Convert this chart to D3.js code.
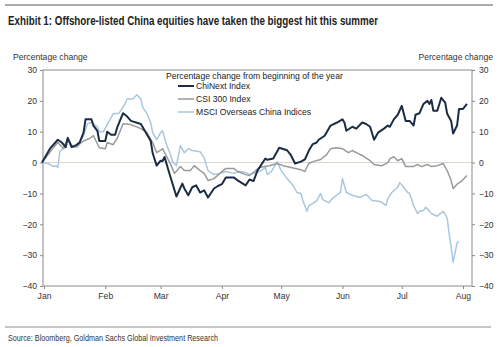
<!DOCTYPE html>
<html lang="en">
<head>
<meta charset="utf-8">
<script src="https://cdn.jsdelivr.net/npm/d3@7"></script>
<style>
  body { margin: 0; background: #fff; }
  svg { display: block; font-family: Arial, "Liberation Sans", sans-serif; }
</style>
</head>
<body>
<script>
// cumulative % change since the start of the year, [date, value]
var chinext = [
  ["2020-12-31", 0], ["2021-01-04", 4.5], ["2021-01-08", 7.4], ["2021-01-10", 6.5], ["2021-01-12", 5],
  ["2021-01-13", 8], ["2021-01-15", 5], ["2021-01-17", 5.5], ["2021-01-19", 6.5], ["2021-01-21", 9.7],
  ["2021-01-22", 14], ["2021-01-25", 14], ["2021-01-26", 12], ["2021-01-28", 10.3], ["2021-01-29", 7],
  ["2021-02-01", 7], ["2021-02-02", 10], ["2021-02-04", 9], ["2021-02-06", 9], ["2021-02-07", 11.3],
  ["2021-02-10", 16], ["2021-02-12", 15], ["2021-02-14", 13.5], ["2021-02-19", 12.5], ["2021-02-21", 10.3],
  ["2021-02-24", 7], ["2021-02-25", 3], ["2021-02-27", -1], ["2021-03-01", 0.6], ["2021-03-02", 0.5],
  ["2021-03-03", 1.8], ["2021-03-04", -0.4], ["2021-03-05", -2.6], ["2021-03-07", -6.8], ["2021-03-09", -11],
  ["2021-03-12", -6.8], ["2021-03-13", -8.4], ["2021-03-15", -10.6], ["2021-03-17", -8], ["2021-03-19", -7.4],
  ["2021-03-21", -9.7], ["2021-03-23", -9], ["2021-03-25", -11.3], ["2021-03-28", -8.4], ["2021-03-30", -7.6],
  ["2021-04-01", -7], ["2021-04-03", -4.8], ["2021-04-07", -4.8], ["2021-04-09", -5.8], ["2021-04-13", -7.4],
  ["2021-04-15", -5.5], ["2021-04-17", -6], ["2021-04-19", -2.6], ["2021-04-23", 1.3], ["2021-04-24", 0.9],
  ["2021-04-27", 1.3], ["2021-04-30", 4.8], ["2021-05-04", 4], ["2021-05-06", 2.3], ["2021-05-08", -0.3],
  ["2021-05-11", 0.3], ["2021-05-13", 1], ["2021-05-15", 3.9], ["2021-05-17", 6], ["2021-05-19", 6.5],
  ["2021-05-20", 7.4], ["2021-05-23", 8.7], ["2021-05-26", 12], ["2021-05-29", 12.9], ["2021-06-01", 14],
  ["2021-06-02", 13], ["2021-06-03", 10.3], ["2021-06-06", 11.6], ["2021-06-08", 11], ["2021-06-11", 13],
  ["2021-06-13", 12.5], ["2021-06-15", 11.6], ["2021-06-17", 7.4], ["2021-06-19", 9.7], ["2021-06-22", 11],
  ["2021-06-24", 12], ["2021-06-25", 11.6], ["2021-06-27", 14], ["2021-06-29", 15.5], ["2021-07-01", 18.4],
  ["2021-07-03", 13.5], ["2021-07-05", 13.5], ["2021-07-07", 12], ["2021-07-08", 15.5], ["2021-07-10", 16],
  ["2021-07-12", 19], ["2021-07-14", 20], ["2021-07-15", 19], ["2021-07-16", 20.3], ["2021-07-17", 16.8],
  ["2021-07-19", 16.8], ["2021-07-21", 21], ["2021-07-23", 19.4], ["2021-07-24", 15.8], ["2021-07-26", 13.5],
  ["2021-07-27", 9.4], ["2021-07-29", 12], ["2021-07-30", 17.4], ["2021-08-01", 17.4], ["2021-08-03", 19]
];

var csi300 = [
  ["2020-12-31", 0], ["2021-01-06", 5], ["2021-01-08", 6.5], ["2021-01-11", 4.5], ["2021-01-13", 8],
  ["2021-01-15", 5.5], ["2021-01-18", 5.5], ["2021-01-21", 7], ["2021-01-24", 7.8], ["2021-01-26", 8.7],
  ["2021-01-29", 4.8], ["2021-02-01", 4.5], ["2021-02-02", 6.5], ["2021-02-05", 5.8], ["2021-02-07", 7.8],
  ["2021-02-10", 12.6], ["2021-02-14", 12.3], ["2021-02-19", 11], ["2021-02-22", 9.7], ["2021-02-25", 6.5],
  ["2021-02-27", 3.2], ["2021-03-01", 4], ["2021-03-02", 4.5], ["2021-03-04", 2], ["2021-03-06", -0.5],
  ["2021-03-08", -3.5], ["2021-03-11", -1.3], ["2021-03-13", -2.6], ["2021-03-16", -2.6], ["2021-03-18", -1],
  ["2021-03-21", -2.6], ["2021-03-23", -3.5], ["2021-03-25", -5.8], ["2021-03-28", -5.2], ["2021-03-31", -3.5],
  ["2021-04-03", -1.9], ["2021-04-07", -1.9], ["2021-04-09", -2.9], ["2021-04-13", -3.9], ["2021-04-15", -4.2],
  ["2021-04-20", -1.6], ["2021-04-25", -1], ["2021-04-29", -0.3], ["2021-05-02", -1], ["2021-05-06", -1.6],
  ["2021-05-11", -2.3], ["2021-05-13", -2.9], ["2021-05-15", -0.3], ["2021-05-17", 0.3], ["2021-05-21", 1],
  ["2021-05-24", 2.6], ["2021-05-26", 4.5], ["2021-05-29", 4.8], ["2021-06-01", 4.5], ["2021-06-04", 3.2],
  ["2021-06-06", 3.9], ["2021-06-09", 2.9], ["2021-06-11", 2.3], ["2021-06-15", 0.6], ["2021-06-17", -0.6],
  ["2021-06-21", -1], ["2021-06-24", 0], ["2021-06-25", 1.3], ["2021-06-27", 1.9], ["2021-06-29", 0.6],
  ["2021-07-01", 1.3], ["2021-07-03", -1.3], ["2021-07-07", -1.3], ["2021-07-09", -0.6], ["2021-07-11", -1.3],
  ["2021-07-14", -0.6], ["2021-07-16", -1.3], ["2021-07-19", -1], ["2021-07-22", -0.3], ["2021-07-24", -2.6],
  ["2021-07-26", -5.8], ["2021-07-27", -8.4], ["2021-07-29", -7], ["2021-07-31", -6.2], ["2021-08-03", -4.2]
];

var msciOverseas = [
  ["2020-12-31", 0], ["2021-01-03", -0.3], ["2021-01-06", -1.3], ["2021-01-07", -1], ["2021-01-08", -1.6],
  ["2021-01-09", 3.5], ["2021-01-11", 5], ["2021-01-13", 7.8], ["2021-01-15", 5], ["2021-01-18", 5],
  ["2021-01-21", 8.7], ["2021-01-23", 12.6], ["2021-01-25", 13], ["2021-01-28", 11.6], ["2021-01-29", 10],
  ["2021-01-31", 10], ["2021-02-02", 12.3], ["2021-02-05", 15.8], ["2021-02-08", 16], ["2021-02-11", 19],
  ["2021-02-12", 20.6], ["2021-02-15", 20.6], ["2021-02-17", 22], ["2021-02-19", 20.6], ["2021-02-20", 17.8],
  ["2021-02-22", 16], ["2021-02-24", 12.9], ["2021-02-25", 9.7], ["2021-02-27", 7.4], ["2021-03-01", 9.7],
  ["2021-03-02", 10.3], ["2021-03-04", 5.8], ["2021-03-06", 2.6], ["2021-03-07", 0.3], ["2021-03-09", -1],
  ["2021-03-11", 5.5], ["2021-03-13", 3.2], ["2021-03-15", 4.5], ["2021-03-17", 3.9], ["2021-03-21", 3.5],
  ["2021-03-23", 1.6], ["2021-03-25", -2.6], ["2021-03-28", -3.9], ["2021-03-31", -3.5], ["2021-04-03", -2.9],
  ["2021-04-07", -3.5], ["2021-04-10", -2.9], ["2021-04-13", -3.2], ["2021-04-15", -3.9], ["2021-04-18", -3.2],
  ["2021-04-20", -2.9], ["2021-04-23", -1.6], ["2021-04-24", -3.9], ["2021-04-26", -2.9], ["2021-04-29", 0.3],
  ["2021-05-01", -2.6], ["2021-05-04", -5.2], ["2021-05-07", -7.4], ["2021-05-09", -9.7], ["2021-05-11", -10],
  ["2021-05-12", -12.3], ["2021-05-14", -15.8], ["2021-05-15", -14], ["2021-05-17", -13.2], ["2021-05-19", -12.3],
  ["2021-05-21", -10], ["2021-05-22", -12], ["2021-05-25", -13], ["2021-05-27", -11.6], ["2021-05-31", -9.7],
  ["2021-06-01", -5.2], ["2021-06-03", -9.7], ["2021-06-06", -10.6], ["2021-06-10", -11.3], ["2021-06-13", -10.3],
  ["2021-06-16", -12.3], ["2021-06-20", -12.6], ["2021-06-23", -13.9], ["2021-06-24", -11.6], ["2021-06-26", -9.7],
  ["2021-06-29", -8], ["2021-06-30", -6.5], ["2021-07-02", -8], ["2021-07-04", -9.7], ["2021-07-05", -10],
  ["2021-07-07", -13.9], ["2021-07-09", -16.5], ["2021-07-10", -15.8], ["2021-07-12", -15.5], ["2021-07-13", -14.5],
  ["2021-07-14", -15], ["2021-07-16", -16.5], ["2021-07-19", -17.4], ["2021-07-20", -16.8], ["2021-07-22", -15.8],
  ["2021-07-24", -18], ["2021-07-25", -23], ["2021-07-26", -27.4], ["2021-07-27", -32.3], ["2021-07-29", -26],
  ["2021-07-30", -25.5]
];

var seriesNames = ["ChiNext Index", "CSI 300 Index", "MSCI Overseas China Indices"];
var seriesColors = ["#1b2c44", "#9a9a9a", "#a9c7de"];
var seriesWidths = [2, 1.5, 1.5];
var yTicks = [30, 20, 10, 0, -10, -20, -30, -40];
var monthTicks = ["2021-01-01", "2021-02-01", "2021-03-01", "2021-04-01", "2021-05-01", "2021-06-01", "2021-07-01", "2021-08-01"];

var w = 500, h = 347;
var plotL = 43, plotR = 472, plotT = 70, plotB = 286;
var parse = d3.timeParse("%Y-%m-%d");

var svg = d3.select("body").append("svg").attr("width", w).attr("height", h);

var x = d3.scaleTime()
  .domain([parse("2021-01-01"), parse("2021-08-01")])
  .range([44, 463]);
var y = d3.scaleLinear().domain([-40, 30]).range([plotB, plotT]);

// header & footer rules
svg.append("line").attr("x1", 5).attr("x2", 493).attr("y1", 5).attr("y2", 5)
  .attr("stroke", "#8f8f8f").attr("stroke-width", 1.5);
svg.append("line").attr("x1", 5).attr("x2", 491).attr("y1", 327).attr("y2", 327)
  .attr("stroke", "#8f8f8f").attr("stroke-width", 1.2);

svg.append("text").attr("x", 8).attr("y", 25)
  .attr("font-family", "'Liberation Sans Narrow', 'Arial Narrow', sans-serif")
  .attr("font-weight", "bold").attr("font-size", 12).attr("fill", "#222")
  .attr("textLength", 370).attr("lengthAdjust", "spacingAndGlyphs")
  .text("Exhibit 1: Offshore-listed China equities have taken the biggest hit this summer");

svg.append("text").attr("x", 8).attr("y", 341)
  .attr("font-family", "'Liberation Sans Narrow', 'Arial Narrow', sans-serif")
  .attr("font-size", 9).attr("fill", "#333")
  .attr("textLength", 210).attr("lengthAdjust", "spacingAndGlyphs")
  .text("Source: Bloomberg, Goldman Sachs Global Investment Research");

svg.append("text").attr("x", 13).attr("y", 60).attr("font-size", 8.6).attr("fill", "#333")
  .text("Percentage change");
svg.append("text").attr("x", 493).attr("y", 60).attr("text-anchor", "end")
  .attr("font-size", 8.6).attr("fill", "#333").text("Percentage change");

// zero line
svg.append("line").attr("x1", plotL).attr("x2", plotR).attr("y1", y(0)).attr("y2", y(0))
  .attr("stroke", "#ddd5cc").attr("stroke-width", 1);

// frame
svg.append("rect").attr("x", plotL).attr("y", plotT)
  .attr("width", plotR - plotL).attr("height", plotB - plotT)
  .attr("fill", "none").attr("stroke", "#8a8a8a").attr("stroke-width", 1);

function styleAxis(g) {
  g.select(".domain").remove();
  g.selectAll(".tick line").attr("stroke", "#8a8a8a");
  g.selectAll(".tick text").attr("fill", "#333").attr("font-size", 8.6)
    .attr("font-family", "Arial, 'Liberation Sans', sans-serif");
}

svg.append("g").attr("transform", "translate(" + plotL + ",0)")
  .call(d3.axisLeft(y).tickValues(yTicks).tickSize(3).tickPadding(3))
  .call(styleAxis);

svg.append("g").attr("transform", "translate(" + plotR + ",0)")
  .call(d3.axisRight(y).tickValues(yTicks).tickSize(3).tickPadding(4))
  .call(styleAxis);

svg.append("g").attr("transform", "translate(0," + plotB + ")")
  .call(d3.axisBottom(x).tickValues(monthTicks.map(parse)).tickFormat(d3.timeFormat("%b"))
    .tickSize(3).tickPadding(4))
  .call(styleAxis);

var line = d3.line()
  .x(function(d) { return x(parse(d[0])); })
  .y(function(d) { return y(d[1]); });

// draw back to front so ChiNext sits on top
var allSeries = [chinext, csi300, msciOverseas];
[2, 1, 0].forEach(function(i) {
  svg.append("path").datum(allSeries[i])
    .attr("d", line)
    .attr("fill", "none")
    .attr("stroke", seriesColors[i])
    .attr("stroke-width", seriesWidths[i])
    .attr("stroke-linejoin", "round");
});

// legend
var legend = svg.append("g").attr("font-size", 8.6).attr("fill", "#222");
legend.append("text").attr("x", 166).attr("y", 79).text("Percentage change from beginning of the year");
seriesNames.forEach(function(name, i) {
  var ly = 86 + i * 13;
  legend.append("line").attr("x1", 178).attr("x2", 194).attr("y1", ly).attr("y2", ly)
    .attr("stroke", seriesColors[i]).attr("stroke-width", seriesWidths[i]);
  legend.append("text").attr("x", 196).attr("y", ly + 3).text(name);
});
</script>
</body>
</html>
